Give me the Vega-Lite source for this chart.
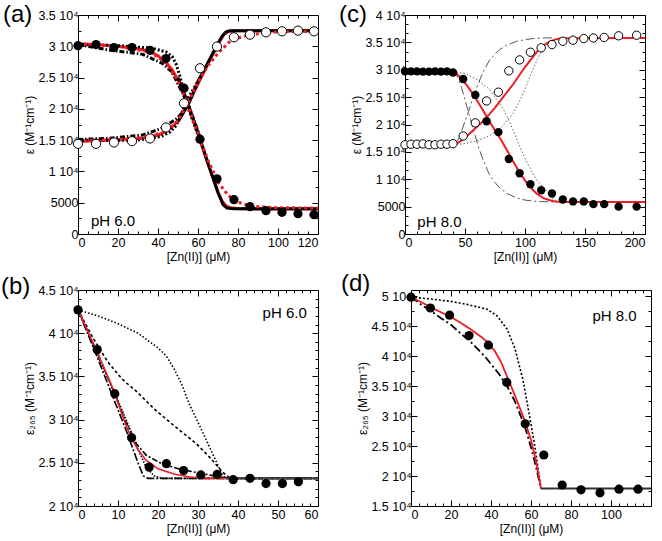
{
"$schema":"https://vega.github.io/schema/vega-lite/v6.json",
"background":"white",
"padding":{"left":0,"top":2,"right":2,"bottom":2},
"config":{"font":"Liberation Sans","view":{"stroke":"black","strokeWidth":1},
"axis":{"grid":false,"domain":false,"tickColor":"black","labelColor":"black","titleColor":"black","labelFontSize":12.5,"titleFontSize":12,"titleFontWeight":"normal","labelFont":"Liberation Sans","titleFont":"Liberation Sans"},
"title":{"font":"Liberation Sans","fontSize":24,"fontWeight":"normal","anchor":"start","frame":"group","baseline":"bottom","color":"black"}},
"datasets":{
"aP":[{"x":0,"y":30100,"s":"filled"},{"x":9,"y":30270,"s":"filled"},{"x":18,"y":29800,"s":"filled"},{"x":27,"y":29800,"s":"filled"},{"x":36,"y":29360,"s":"filled"},{"x":44,"y":28030,"s":"filled"},{"x":53,"y":23300,"s":"filled"},{"x":61,"y":15160,"s":"filled"},{"x":69.5,"y":8830,"s":"filled"},{"x":78,"y":5480,"s":"filled"},{"x":86,"y":4360,"s":"filled"},{"x":94,"y":3720,"s":"filled"},{"x":102,"y":3460,"s":"filled"},{"x":110,"y":3240,"s":"filled"},{"x":118,"y":3080,"s":"filled"},
{"x":0,"y":14410,"s":"open"},{"x":9,"y":14410,"s":"open"},{"x":18,"y":14630,"s":"open"},{"x":27,"y":14840,"s":"open"},{"x":36,"y":15270,"s":"open"},{"x":44,"y":17020,"s":"open"},{"x":53,"y":20900,"s":"open"},{"x":61,"y":26490,"s":"open"},{"x":69.5,"y":29950,"s":"open"},{"x":78,"y":31440,"s":"open"},{"x":86,"y":31860,"s":"open"},{"x":94,"y":32230,"s":"open"},{"x":102,"y":32390,"s":"open"},{"x":110,"y":32500,"s":"open"},{"x":118,"y":32390,"s":"open"}],
"aL":[{"x":0,"y":30400,"s":"rsd"},{"x":10,"y":30250,"s":"rsd"},{"x":20,"y":30000,"s":"rsd"},{"x":30,"y":29600,"s":"rsd"},{"x":36,"y":29150,"s":"rsd"},{"x":40,"y":28500,"s":"rsd"},{"x":44,"y":27400,"s":"rsd"},{"x":47,"y":26300,"s":"rsd"},{"x":50,"y":24600,"s":"rsd"},{"x":53,"y":22400,"s":"rsd"},{"x":56,"y":19700,"s":"rsd"},{"x":60,"y":16000,"s":"rsd"},{"x":65,"y":11200,"s":"rsd"},{"x":70,"y":6700,"s":"rsd"},{"x":72,"y":5300,"s":"rsd"},{"x":74,"y":4500,"s":"rsd"},{"x":76,"y":4200,"s":"rsd"},{"x":80,"y":4050,"s":"rsd"},{"x":90,"y":4000,"s":"rsd"},{"x":120,"y":4000,"s":"rsd"},
{"x":0,"y":14800,"s":"rsu"},{"x":20,"y":15050,"s":"rsu"},{"x":32,"y":15300,"s":"rsu"},{"x":40,"y":15800,"s":"rsu"},{"x":44,"y":16400,"s":"rsu"},{"x":48,"y":17400,"s":"rsu"},{"x":50.5,"y":18200,"s":"rsu"},{"x":53,"y":19600,"s":"rsu"},{"x":56,"y":21400,"s":"rsu"},{"x":60,"y":24000,"s":"rsu"},{"x":65,"y":27200,"s":"rsu"},{"x":70,"y":30300,"s":"rsu"},{"x":73,"y":31900,"s":"rsu"},{"x":75,"y":32350,"s":"rsu"},{"x":78,"y":32500,"s":"rsu"},{"x":120,"y":32500,"s":"rsu"},
{"x":50,"y":25000,"s":"bsd"},{"x":55,"y":20800,"s":"bsd"},{"x":60,"y":16200,"s":"bsd"},{"x":65,"y":11300,"s":"bsd"},{"x":70,"y":6600,"s":"bsd"},{"x":72.5,"y":4700,"s":"bsd"},{"x":74.5,"y":4150,"s":"bsd"},{"x":78,"y":4030,"s":"bsd"},{"x":120,"y":4030,"s":"bsd"},
{"x":50,"y":18000,"s":"bsu"},{"x":55,"y":20600,"s":"bsu"},{"x":60,"y":24400,"s":"bsu"},{"x":65,"y":27400,"s":"bsu"},{"x":69,"y":29900,"s":"bsu"},{"x":72,"y":31600,"s":"bsu"},{"x":74,"y":32300,"s":"bsu"},{"x":76,"y":32500,"s":"bsu"},{"x":120,"y":32500,"s":"bsu"},
{"x":0,"y":30300,"s":"bdd"},{"x":20,"y":30100,"s":"bdd"},{"x":37,"y":29700,"s":"bdd"},{"x":44,"y":29100,"s":"bdd"},{"x":47,"y":28400,"s":"bdd"},{"x":49,"y":27200,"s":"bdd"},{"x":51,"y":25200,"s":"bdd"},{"x":53,"y":22600,"s":"bdd"},{"x":55,"y":20200,"s":"bdd"},{"x":58,"y":17600,"s":"bdd"},{"x":61,"y":15000,"s":"bdd"},
{"x":0,"y":15000,"s":"bdu"},{"x":30,"y":15000,"s":"bdu"},{"x":41.6,"y":15600,"s":"bdu"},{"x":46,"y":16300,"s":"bdu"},{"x":49,"y":17300,"s":"bdu"},{"x":51,"y":18600,"s":"bdu"},{"x":53,"y":20300,"s":"bdu"},{"x":55,"y":21700,"s":"bdu"},{"x":58,"y":23300,"s":"bdu"},{"x":61,"y":25000,"s":"bdu"},
{"x":0,"y":30300,"s":"bxd"},{"x":15.5,"y":29400,"s":"bxd"},{"x":32,"y":28750,"s":"bxd"},{"x":42,"y":27300,"s":"bxd"},{"x":47,"y":25900,"s":"bxd"},{"x":51,"y":23300,"s":"bxd"},{"x":55,"y":20800,"s":"bxd"},{"x":58,"y":18200,"s":"bxd"},{"x":61,"y":15500,"s":"bxd"},
{"x":0,"y":15100,"s":"bxu"},{"x":15.5,"y":15300,"s":"bxu"},{"x":32,"y":15800,"s":"bxu"},{"x":42,"y":16900,"s":"bxu"},{"x":49.7,"y":18500,"s":"bxu"},{"x":53,"y":19800,"s":"bxu"},{"x":56,"y":21400,"s":"bxu"},{"x":58,"y":22800,"s":"bxu"},{"x":61,"y":25000,"s":"bxu"},
{"x":0,"y":30400,"s":"rdd"},{"x":20,"y":30000,"s":"rdd"},{"x":36,"y":29100,"s":"rdd"},{"x":44,"y":27400,"s":"rdd"},{"x":50,"y":24500,"s":"rdd"},{"x":55,"y":20600,"s":"rdd"},{"x":60,"y":15900,"s":"rdd"},{"x":65,"y":11800,"s":"rdd"},{"x":70,"y":8300,"s":"rdd"},{"x":75,"y":6200,"s":"rdd"},{"x":80,"y":5100,"s":"rdd"},{"x":85,"y":4600,"s":"rdd"},{"x":90,"y":4350,"s":"rdd"},{"x":100,"y":4200,"s":"rdd"},{"x":120,"y":4150,"s":"rdd"},
{"x":0,"y":14800,"s":"rdu"},{"x":30,"y":15300,"s":"rdu"},{"x":44,"y":16300,"s":"rdu"},{"x":50,"y":18100,"s":"rdu"},{"x":55,"y":21000,"s":"rdu"},{"x":60,"y":24300,"s":"rdu"},{"x":65,"y":26900,"s":"rdu"},{"x":70,"y":28900,"s":"rdu"},{"x":76.7,"y":31000,"s":"rdu"},{"x":85,"y":31800,"s":"rdu"},{"x":95,"y":32200,"s":"rdu"},{"x":105,"y":32350,"s":"rdu"},{"x":120,"y":32400,"s":"rdu"}],
"aT":[{"x":6.5,"y":1300,"t":"pH 6.0"}],
"cP":[{"x":0,"y":29700,"s":"filled"},{"x":5,"y":29700,"s":"filled"},{"x":10,"y":29700,"s":"filled"},{"x":15,"y":29650,"s":"filled"},{"x":20,"y":29650,"s":"filled"},{"x":25,"y":29700,"s":"filled"},{"x":30,"y":29650,"s":"filled"},{"x":35,"y":29700,"s":"filled"},{"x":40,"y":29500,"s":"filled"},{"x":48.5,"y":28300,"s":"filled"},{"x":58.6,"y":25400,"s":"filled"},{"x":68,"y":20600,"s":"filled"},{"x":77.8,"y":18600,"s":"filled"},{"x":86.5,"y":13700,"s":"filled"},{"x":95.5,"y":11100,"s":"filled"},{"x":104.5,"y":9100,"s":"filled"},{"x":113.5,"y":8000,"s":"filled"},{"x":122.5,"y":7400,"s":"filled"},{"x":131.5,"y":6300,"s":"filled"},{"x":140,"y":5950,"s":"filled"},{"x":149,"y":5950,"s":"filled"},{"x":157,"y":5450,"s":"filled"},{"x":166,"y":5450,"s":"filled"},{"x":178,"y":5000,"s":"filled"},{"x":193,"y":5000,"s":"filled"},
{"x":0,"y":16300,"s":"open"},{"x":5,"y":16400,"s":"open"},{"x":10,"y":16400,"s":"open"},{"x":15,"y":16450,"s":"open"},{"x":20,"y":16300,"s":"open"},{"x":25,"y":16300,"s":"open"},{"x":30,"y":16400,"s":"open"},{"x":35,"y":16400,"s":"open"},{"x":40,"y":16500,"s":"open"},{"x":48.5,"y":17900,"s":"open"},{"x":58.6,"y":20300,"s":"open"},{"x":68,"y":24300,"s":"open"},{"x":77.8,"y":25900,"s":"open"},{"x":86.5,"y":29800,"s":"open"},{"x":95.5,"y":31800,"s":"open"},{"x":104.5,"y":33200,"s":"open"},{"x":113.5,"y":34000,"s":"open"},{"x":122.5,"y":34600,"s":"open"},{"x":131.5,"y":35200,"s":"open"},{"x":140,"y":35400,"s":"open"},{"x":149,"y":35700,"s":"open"},{"x":157,"y":35800,"s":"open"},{"x":166,"y":35900,"s":"open"},{"x":178,"y":36200,"s":"open"},{"x":193,"y":36300,"s":"open"}],
"cL":[{"x":40,"y":29700,"s":"ld"},{"x":41,"y":29650,"s":"ld"},{"x":44,"y":28600,"s":"ld"},{"x":47,"y":26800,"s":"ld"},{"x":50,"y":24500,"s":"ld"},{"x":53,"y":22200,"s":"ld"},{"x":56,"y":19800,"s":"ld"},{"x":60,"y":16800,"s":"ld"},{"x":62.4,"y":15100,"s":"ld"},{"x":65,"y":13600,"s":"ld"},{"x":70,"y":11000,"s":"ld"},{"x":75,"y":9400,"s":"ld"},{"x":79,"y":8400,"s":"ld"},{"x":85,"y":7400,"s":"ld"},{"x":93,"y":6600,"s":"ld"},{"x":100,"y":6200,"s":"ld"},{"x":107,"y":6000,"s":"ld"},{"x":115,"y":5900,"s":"ld"},{"x":125,"y":5850,"s":"ld"},
{"x":40,"y":16300,"s":"la"},{"x":41,"y":16350,"s":"la"},{"x":44,"y":17200,"s":"la"},{"x":47,"y":18700,"s":"la"},{"x":50,"y":20600,"s":"la"},{"x":53,"y":22400,"s":"la"},{"x":56,"y":24400,"s":"la"},{"x":60,"y":26800,"s":"la"},{"x":62.4,"y":28200,"s":"la"},{"x":65,"y":29500,"s":"la"},{"x":70,"y":31600,"s":"la"},{"x":75,"y":32900,"s":"la"},{"x":79,"y":33700,"s":"la"},{"x":85,"y":34500,"s":"la"},{"x":93,"y":35200,"s":"la"},{"x":100,"y":35500,"s":"la"},{"x":107,"y":35700,"s":"la"},{"x":115,"y":35800,"s":"la"},{"x":125,"y":35850,"s":"la"},
{"x":40,"y":29700,"s":"gd"},{"x":42,"y":29600,"s":"gd"},{"x":50,"y":29300,"s":"gd"},{"x":60,"y":28200,"s":"gd"},{"x":70,"y":26500,"s":"gd"},{"x":78,"y":24000,"s":"gd"},{"x":82,"y":22800,"s":"gd"},{"x":86,"y":21000,"s":"gd"},{"x":90,"y":19000,"s":"gd"},{"x":95,"y":16300,"s":"gd"},{"x":100,"y":13800,"s":"gd"},{"x":105,"y":11600,"s":"gd"},{"x":110,"y":9800,"s":"gd"},{"x":115,"y":8600,"s":"gd"},{"x":118,"y":7800,"s":"gd"},{"x":121,"y":7000,"s":"gd"},{"x":124,"y":6300,"s":"gd"},{"x":128,"y":5950,"s":"gd"},{"x":135,"y":5850,"s":"gd"},
{"x":40,"y":16300,"s":"ga"},{"x":42,"y":16350,"s":"ga"},{"x":50,"y":16500,"s":"ga"},{"x":60,"y":17000,"s":"ga"},{"x":70,"y":17900,"s":"ga"},{"x":80,"y":19400,"s":"ga"},{"x":90,"y":22000,"s":"ga"},{"x":95,"y":24000,"s":"ga"},{"x":100,"y":26500,"s":"ga"},{"x":105,"y":29200,"s":"ga"},{"x":110,"y":31800,"s":"ga"},{"x":115,"y":33800,"s":"ga"},{"x":120,"y":35000,"s":"ga"},{"x":125,"y":35600,"s":"ga"},{"x":130,"y":35800,"s":"ga"},
{"x":0,"y":29700,"s":"rd"},{"x":41,"y":29700,"s":"rd"},{"x":43,"y":29300,"s":"rd"},{"x":46,"y":28600,"s":"rd"},{"x":50,"y":27600,"s":"rd"},{"x":55,"y":26100,"s":"rd"},{"x":60,"y":24400,"s":"rd"},{"x":65,"y":22600,"s":"rd"},{"x":70,"y":20700,"s":"rd"},{"x":75,"y":18900,"s":"rd"},{"x":80,"y":17200,"s":"rd"},{"x":85,"y":15300,"s":"rd"},{"x":90,"y":13300,"s":"rd"},{"x":95,"y":11400,"s":"rd"},{"x":100,"y":9800,"s":"rd"},{"x":105,"y":8400,"s":"rd"},{"x":110,"y":7300,"s":"rd"},{"x":115,"y":6600,"s":"rd"},{"x":120,"y":6200,"s":"rd"},{"x":125,"y":5950,"s":"rd"},{"x":130,"y":5850,"s":"rd"},{"x":200,"y":5850,"s":"rd"},
{"x":0,"y":16300,"s":"ra"},{"x":41,"y":16300,"s":"ra"},{"x":43,"y":16500,"s":"ra"},{"x":46,"y":16900,"s":"ra"},{"x":50,"y":17600,"s":"ra"},{"x":55,"y":18600,"s":"ra"},{"x":60,"y":19600,"s":"ra"},{"x":65,"y":20600,"s":"ra"},{"x":70,"y":21800,"s":"ra"},{"x":75,"y":23100,"s":"ra"},{"x":80,"y":24500,"s":"ra"},{"x":85,"y":25900,"s":"ra"},{"x":90,"y":27300,"s":"ra"},{"x":95,"y":28900,"s":"ra"},{"x":100,"y":30500,"s":"ra"},{"x":105,"y":31900,"s":"ra"},{"x":110,"y":33300,"s":"ra"},{"x":115,"y":34400,"s":"ra"},{"x":120,"y":35100,"s":"ra"},{"x":125,"y":35500,"s":"ra"},{"x":130,"y":35750,"s":"ra"},{"x":200,"y":35800,"s":"ra"}],
"cT":[{"x":10.3,"y":1340,"t":"pH 8.0"}],
"bP":[{"x":0,"y":42700},{"x":4.8,"y":38100},{"x":9.2,"y":33000},{"x":13.4,"y":27900},{"x":17.8,"y":24500},{"x":22.1,"y":24900},{"x":26.4,"y":24100},{"x":30.7,"y":23600},{"x":34.8,"y":23650},{"x":38.8,"y":23050},{"x":43,"y":23200},{"x":47,"y":22600},{"x":51.1,"y":22600},{"x":55.1,"y":22800}],
"bL":[{"x":0,"y":42700,"s":"bdot"},{"x":5,"y":42000,"s":"bdot"},{"x":10,"y":41100,"s":"bdot"},{"x":15,"y":40000,"s":"bdot"},{"x":20,"y":38300,"s":"bdot"},{"x":22,"y":37400,"s":"bdot"},{"x":24,"y":35900,"s":"bdot"},{"x":26,"y":34000,"s":"bdot"},{"x":28,"y":31600,"s":"bdot"},{"x":30,"y":29700,"s":"bdot"},{"x":32,"y":27700,"s":"bdot"},{"x":34,"y":25700,"s":"bdot"},{"x":36,"y":23700,"s":"bdot"},{"x":37,"y":23200,"s":"bdot"},{"x":60,"y":23200,"s":"bdot"},
{"x":0,"y":42700,"s":"bsh"},{"x":3.7,"y":39500,"s":"bsh"},{"x":7.4,"y":36700,"s":"bsh"},{"x":11,"y":34700,"s":"bsh"},{"x":15,"y":33100,"s":"bsh"},{"x":19.1,"y":31200,"s":"bsh"},{"x":24,"y":29300,"s":"bsh"},{"x":29.6,"y":27200,"s":"bsh"},{"x":33,"y":25600,"s":"bsh"},{"x":36,"y":24000,"s":"bsh"},{"x":38,"y":23200,"s":"bsh"},{"x":60,"y":23200,"s":"bsh"},
{"x":0,"y":42700,"s":"bdx"},{"x":5,"y":37600,"s":"bdx"},{"x":9.6,"y":32500,"s":"bdx"},{"x":12,"y":29700,"s":"bdx"},{"x":14.6,"y":27200,"s":"bdx"},{"x":17,"y":25900,"s":"bdx"},{"x":21.3,"y":24800,"s":"bdx"},{"x":26,"y":24200,"s":"bdx"},{"x":30.5,"y":23800,"s":"bdx"},{"x":35,"y":23400,"s":"bdx"},{"x":38,"y":23200,"s":"bdx"},{"x":60,"y":23200,"s":"bdx"},
{"x":0,"y":42700,"s":"bld"},{"x":5,"y":37000,"s":"bld"},{"x":9,"y":32300,"s":"bld"},{"x":12,"y":28800,"s":"bld"},{"x":15,"y":25000,"s":"bld"},{"x":16.3,"y":23500,"s":"bld"},{"x":17.5,"y":23200,"s":"bld"},{"x":60,"y":23200,"s":"bld"},
{"x":0,"y":42700,"s":"bdt2"},{"x":5,"y":37300,"s":"bdt2"},{"x":10,"y":32200,"s":"bdt2"},{"x":13,"y":28900,"s":"bdt2"},{"x":15,"y":26600,"s":"bdt2"},{"x":17,"y":24500,"s":"bdt2"},{"x":19,"y":23500,"s":"bdt2"},{"x":21,"y":23200,"s":"bdt2"},{"x":60,"y":23200,"s":"bdt2"},
{"x":0,"y":42700,"s":"red"},{"x":5,"y":37600,"s":"red"},{"x":9,"y":33300,"s":"red"},{"x":11,"y":30600,"s":"red"},{"x":13,"y":28200,"s":"red"},{"x":15,"y":26500,"s":"red"},{"x":17,"y":25300,"s":"red"},{"x":20,"y":24300,"s":"red"},{"x":24,"y":23700,"s":"red"},{"x":28,"y":23350,"s":"red"},{"x":32,"y":23200,"s":"red"},{"x":37,"y":23200,"s":"red"},
{"x":37,"y":23200,"s":"flat"},{"x":60,"y":23200,"s":"flat"}],
"bT":[{"x":57.2,"y":41800,"t":"pH 6.0"}],
"dP":[{"x":0,"y":49800},{"x":9.7,"y":48000},{"x":19.3,"y":46800},{"x":29,"y":43400},{"x":38.7,"y":41800},{"x":47.9,"y":35600},{"x":57.1,"y":28700},{"x":66.4,"y":23500},{"x":75.6,"y":18500},{"x":85,"y":17700},{"x":94.5,"y":17200},{"x":104,"y":17800},{"x":113.5,"y":17800}],
"dL":[{"x":0,"y":49800,"s":"ddot"},{"x":10,"y":49500,"s":"ddot"},{"x":20,"y":49100,"s":"ddot"},{"x":28,"y":48600,"s":"ddot"},{"x":38,"y":47800,"s":"ddot"},{"x":43,"y":46700,"s":"ddot"},{"x":48,"y":44500,"s":"ddot"},{"x":52,"y":41200,"s":"ddot"},{"x":56,"y":36000,"s":"ddot"},{"x":59,"y":30500,"s":"ddot"},{"x":62,"y":24800,"s":"ddot"},{"x":65,"y":17900,"s":"ddot"},
{"x":0,"y":49800,"s":"dld"},{"x":5,"y":48600,"s":"dld"},{"x":10,"y":47500,"s":"dld"},{"x":15,"y":46300,"s":"dld"},{"x":20,"y":45200,"s":"dld"},{"x":24,"y":44000,"s":"dld"},{"x":30,"y":42300,"s":"dld"},{"x":37.5,"y":39700,"s":"dld"},{"x":44,"y":37000,"s":"dld"},{"x":48,"y":35000,"s":"dld"},{"x":52,"y":32400,"s":"dld"},{"x":57,"y":28200,"s":"dld"},{"x":61,"y":23600,"s":"dld"},{"x":65,"y":17900,"s":"dld"},
{"x":0,"y":49800,"s":"red"},{"x":5,"y":49000,"s":"red"},{"x":10,"y":48100,"s":"red"},{"x":15,"y":47300,"s":"red"},{"x":20,"y":46500,"s":"red"},{"x":25,"y":45500,"s":"red"},{"x":30,"y":44400,"s":"red"},{"x":35,"y":43200,"s":"red"},{"x":38,"y":42400,"s":"red"},{"x":42,"y":40800,"s":"red"},{"x":45,"y":39000,"s":"red"},{"x":48,"y":36600,"s":"red"},{"x":51,"y":34200,"s":"red"},{"x":54,"y":31700,"s":"red"},{"x":57,"y":29100,"s":"red"},{"x":60,"y":26000,"s":"red"},{"x":62.5,"y":22500,"s":"red"},{"x":65,"y":17900,"s":"red"},
{"x":65,"y":17900,"s":"dflat"},{"x":120,"y":17900,"s":"dflat"}],
"dT":[{"x":112.8,"y":45800,"t":"pH 8.0"}]
},
"spacing":8,
"resolve":{"scale":{"color":"independent","strokeDash":"independent","strokeWidth":"independent"}},
"vconcat":[
{"hconcat":[
{"width":240,"height":219,
"title":{"text":"(a)","dx":-75,"offset":-18},
"layer":[
{"data":{"name":"aL"},"mark":{"type":"line","clip":true},
"encoding":{
"x":{"field":"x","type":"quantitative","scale":{"domain":[0,120],"nice":false,"zero":false},"axis":{"orient":"bottom","values":[0,20,40,60,80,100,120],"tickSize":-6,"labelPadding":8,"title":"[Zn(II)] (μM)","titlePadding":3}},
"y":{"field":"y","type":"quantitative","scale":{"domain":[0,35000],"nice":false,"zero":false},"axis":{"orient":"left","values":[0,5000,10000,15000,20000,25000,30000,35000],"tickSize":-6,"labelPadding":6,"labelExpr":"datum.value == 0 ? '0' : datum.value == 5000 ? '5000' : (datum.value / 10000) + ' 10⁴'","title":"ε (M⁻¹cm⁻¹)","titlePadding":1}},
"color":{"field":"s","type":"nominal","legend":null,"scale":{"domain":["rsd","rsu","bsd","bsu","bdd","bdu","bxd","bxu","rdd","rdu"],"range":["#ee1c24","#ee1c24","#000000","#000000","#000000","#000000","#000000","#000000","#ee1c24","#ee1c24"]}},
"strokeDash":{"field":"s","type":"nominal","legend":null,"scale":{"domain":["rsd","rsu","bsd","bsu","bdd","bdu","bxd","bxu","rdd","rdu"],"range":[[1,0],[1,0],[1,0],[1,0],[2,2],[2,2],[5,2,1.5,2],[5,2,1.5,2],[3,3],[3,3]]}},
"strokeWidth":{"field":"s","type":"ordinal","legend":null,"scale":{"domain":["rsd","rsu","bsd","bsu","bdd","bdu","bxd","bxu","rdd","rdu"],"range":[3,3,2,2,1.4,1.4,1.5,1.5,3.5,3.5]}}}},
{"data":{"name":"aP"},"transform":[{"filter":"datum.s == 'filled'"}],"mark":{"type":"point","shape":"circle","filled":true,"color":"black","size":85,"opacity":1},
"encoding":{"x":{"field":"x","type":"quantitative","axis":{"orient":"top","values":[0,20,40,60,80,100,120],"tickSize":-6,"labels":false,"title":null}},
"y":{"field":"y","type":"quantitative","axis":{"orient":"right","values":[0,5000,10000,15000,20000,25000,30000,35000],"tickSize":-6,"labels":false,"title":null}}}},
{"data":{"name":"aP"},"transform":[{"filter":"datum.s == 'open'"}],"mark":{"type":"point","shape":"circle","filled":true,"fill":"white","stroke":"black","strokeWidth":1,"size":85,"opacity":1},
"encoding":{"x":{"field":"x","type":"quantitative","axis":{"orient":"bottom","values":[5,10,15,25,30,35,45,50,55,65,70,75,85,90,95,105,110,115],"tickSize":-3,"labels":false,"title":null}},
"y":{"field":"y","type":"quantitative","axis":{"orient":"left","values":[2500,7500,12500,17500,22500,27500,32500],"tickSize":-3,"labels":false,"title":null}}}},
{"data":{"name":"aT"},"mark":{"type":"text","align":"left","baseline":"alphabetic","fontSize":15,"font":"Liberation Sans"},
"encoding":{"text":{"field":"t"},"x":{"field":"x","type":"quantitative","axis":{"orient":"top","values":[5,10,15,25,30,35,45,50,55,65,70,75,85,90,95,105,110,115],"tickSize":-3,"labels":false,"title":null}},
"y":{"field":"y","type":"quantitative","axis":{"orient":"right","values":[2500,7500,12500,17500,22500,27500,32500],"tickSize":-3,"labels":false,"title":null}}}}
],
"resolve":{"axis":{"x":"independent","y":"independent"}}},
{"width":240,"height":219,
"title":{"text":"(c)","dx":-66,"offset":-18},
"layer":[
{"data":{"name":"cL"},"transform":[{"filter":"datum.s != 'rd' && datum.s != 'ra'"}],"mark":{"type":"line","clip":true},
"encoding":{
"x":{"field":"x","type":"quantitative","scale":{"domain":[0,200],"nice":false,"zero":false},"axis":{"orient":"bottom","values":[0,50,100,150,200],"tickSize":-6,"labelPadding":8,"title":"[Zn(II)] (μM)","titlePadding":3}},
"y":{"field":"y","type":"quantitative","scale":{"domain":[0,40000],"nice":false,"zero":false},"axis":{"orient":"left","values":[0,5000,10000,15000,20000,25000,30000,35000,40000],"tickSize":-6,"labelPadding":6,"labelExpr":"datum.value == 0 ? '0' : datum.value == 5000 ? '5000' : (datum.value / 10000) + ' 10⁴'","title":"ε (M⁻¹cm⁻¹)","titlePadding":1}},
"color":{"field":"s","type":"nominal","legend":null,"scale":{"domain":["ld","la","gd","ga"],"range":["#555555","#555555","#666666","#666666"]}},
"strokeDash":{"field":"s","type":"nominal","legend":null,"scale":{"domain":["ld","la","gd","ga"],"range":[[9,3,2,3],[9,3,2,3],[1.5,2],[1.5,2]]}},
"strokeWidth":{"value":1}}},
{"data":{"name":"cL"},"transform":[{"filter":"datum.s == 'rd' || datum.s == 'ra'"}],"mark":{"type":"line","clip":true,"color":"#ee1c24","strokeWidth":2},
"encoding":{"detail":{"field":"s"},"x":{"field":"x","type":"quantitative","axis":{"orient":"top","values":[0,50,100,150,200],"tickSize":-6,"labels":false,"title":null}},
"y":{"field":"y","type":"quantitative","axis":{"orient":"right","values":[0,5000,10000,15000,20000,25000,30000,35000,40000],"tickSize":-6,"labels":false,"title":null}}}},
{"data":{"name":"cP"},"transform":[{"filter":"datum.s == 'filled'"}],"mark":{"type":"point","shape":"circle","filled":true,"color":"black","size":70,"opacity":1},
"encoding":{"x":{"field":"x","type":"quantitative","axis":{"orient":"bottom","values":[10,20,30,40,60,70,80,90,110,120,130,140,160,170,180,190],"tickSize":-3,"labels":false,"title":null}},
"y":{"field":"y","type":"quantitative","axis":{"orient":"left","values":[1666.7,3333.3,6666.7,8333.3,11666.7,13333.3,16666.7,18333.3,21666.7,23333.3,26666.7,28333.3,31666.7,33333.3,36666.7,38333.3],"tickSize":-3,"labels":false,"title":null}}}},
{"data":{"name":"cP"},"transform":[{"filter":"datum.s == 'open'"}],"mark":{"type":"point","shape":"circle","filled":true,"fill":"white","stroke":"black","strokeWidth":1,"size":70,"opacity":1},
"encoding":{"x":{"field":"x","type":"quantitative","axis":{"orient":"top","values":[10,20,30,40,60,70,80,90,110,120,130,140,160,170,180,190],"tickSize":-3,"labels":false,"title":null}},
"y":{"field":"y","type":"quantitative","axis":{"orient":"right","values":[1666.7,3333.3,6666.7,8333.3,11666.7,13333.3,16666.7,18333.3,21666.7,23333.3,26666.7,28333.3,31666.7,33333.3,36666.7,38333.3],"tickSize":-3,"labels":false,"title":null}}}},
{"data":{"name":"cT"},"mark":{"type":"text","align":"left","baseline":"alphabetic","fontSize":15,"font":"Liberation Sans"},
"encoding":{"text":{"field":"t"},"x":{"field":"x","type":"quantitative","axis":null},"y":{"field":"y","type":"quantitative","axis":null}}}
],
"resolve":{"axis":{"x":"independent","y":"independent"}}}
],"spacing":16,"resolve":{"scale":{"color":"independent","strokeDash":"independent","strokeWidth":"independent"}}},
{"hconcat":[
{"width":240,"height":216,
"title":{"text":"(b)","dx":-77,"offset":-15},
"layer":[
{"data":{"name":"bL"},"transform":[{"filter":"datum.s != 'red'"}],"mark":{"type":"line","clip":true},
"encoding":{
"x":{"field":"x","type":"quantitative","scale":{"domain":[0,60],"nice":false,"zero":false},"axis":{"orient":"bottom","values":[0,10,20,30,40,50,60],"tickSize":-6,"labelPadding":8,"title":"[Zn(II)] (μM)","titlePadding":3}},
"y":{"field":"y","type":"quantitative","scale":{"domain":[20000,45000],"nice":false,"zero":false},"axis":{"orient":"left","values":[20000,25000,30000,35000,40000,45000],"tickSize":-6,"labelPadding":6,"labelExpr":"(datum.value / 10000) + ' 10⁴'","title":"ε₂₆₅ (M⁻¹cm⁻¹)","titlePadding":1}},
"color":{"field":"s","type":"nominal","legend":null,"scale":{"domain":["bdot","bsh","bdx","bld","bdt2","flat"],"range":["#000000","#000000","#000000","#000000","#000000","#444444"]}},
"strokeDash":{"field":"s","type":"nominal","legend":null,"scale":{"domain":["bdot","bsh","bdx","bld","bdt2","flat"],"range":[[1.5,2],[3,2.5],[6,2,2,2],[8,2,2,2],[1.5,1.5],[1,0]]}},
"strokeWidth":{"field":"s","type":"ordinal","legend":null,"scale":{"domain":["bdot","bsh","bdx","bld","bdt2","flat"],"range":[1.6,1.6,1.5,2,1.3,2]}}}},
{"data":{"name":"bL"},"transform":[{"filter":"datum.s == 'red'"}],"mark":{"type":"line","clip":true,"color":"#ee1c24","strokeWidth":1.6},
"encoding":{"x":{"field":"x","type":"quantitative","axis":{"orient":"top","values":[0,10,20,30,40,50,60],"tickSize":-6,"labels":false,"title":null}},
"y":{"field":"y","type":"quantitative","axis":{"orient":"right","values":[20000,25000,30000,35000,40000,45000],"tickSize":-6,"labels":false,"title":null}}}},
{"data":{"name":"bP"},"mark":{"type":"point","shape":"circle","filled":true,"color":"black","size":85,"opacity":1},
"encoding":{"x":{"field":"x","type":"quantitative","axis":{"orient":"bottom","values":[2,4,6,8,12,14,16,18,22,24,26,28,32,34,36,38,42,44,46,48,52,54,56,58],"tickSize":-3,"labels":false,"title":null}},
"y":{"field":"y","type":"quantitative","axis":{"orient":"left","values":[21000,22000,23000,24000,26000,27000,28000,29000,31000,32000,33000,34000,36000,37000,38000,39000,41000,42000,43000,44000],"tickSize":-3,"labels":false,"title":null}}}},
{"data":{"name":"bT"},"mark":{"type":"text","align":"right","baseline":"alphabetic","fontSize":15,"font":"Liberation Sans"},
"encoding":{"text":{"field":"t"},"x":{"field":"x","type":"quantitative","axis":{"orient":"top","values":[2,4,6,8,12,14,16,18,22,24,26,28,32,34,36,38,42,44,46,48,52,54,56,58],"tickSize":-3,"labels":false,"title":null}},
"y":{"field":"y","type":"quantitative","axis":{"orient":"right","values":[21000,22000,23000,24000,26000,27000,28000,29000,31000,32000,33000,34000,36000,37000,38000,39000,41000,42000,43000,44000],"tickSize":-3,"labels":false,"title":null}}}}
],
"resolve":{"axis":{"x":"independent","y":"independent"}}},
{"width":240,"height":216,
"title":{"text":"(d)","dx":-70,"offset":-6},
"layer":[
{"data":{"name":"dL"},"transform":[{"filter":"datum.s != 'red'"}],"mark":{"type":"line","clip":true},
"encoding":{
"x":{"field":"x","type":"quantitative","scale":{"domain":[0,120],"nice":false,"zero":false},"axis":{"orient":"bottom","values":[0,20,40,60,80,100],"tickSize":-6,"labelPadding":8,"title":"[Zn(II)] (μM)","titlePadding":3}},
"y":{"field":"y","type":"quantitative","scale":{"domain":[15000,51000],"nice":false,"zero":false},"axis":{"orient":"left","values":[15000,20000,25000,30000,35000,40000,45000,50000],"tickSize":-6,"labelPadding":6,"labelExpr":"(datum.value / 10000) + ' 10⁴'","title":"ε₂₆₅ (M⁻¹cm⁻¹)","titlePadding":1}},
"color":{"field":"s","type":"nominal","legend":null,"scale":{"domain":["ddot","dld","dflat"],"range":["#000000","#000000","#333333"]}},
"strokeDash":{"field":"s","type":"nominal","legend":null,"scale":{"domain":["ddot","dld","dflat"],"range":[[2,2],[8,3,2,3],[1,0]]}},
"strokeWidth":{"field":"s","type":"ordinal","legend":null,"scale":{"domain":["ddot","dld","dflat"],"range":[1.6,2,2]}}}},
{"data":{"name":"dL"},"transform":[{"filter":"datum.s == 'red'"}],"mark":{"type":"line","clip":true,"color":"#ee1c24","strokeWidth":1.8},
"encoding":{"x":{"field":"x","type":"quantitative","axis":{"orient":"top","values":[0,20,40,60,80,100,120],"tickSize":-6,"labels":false,"title":null}},
"y":{"field":"y","type":"quantitative","axis":{"orient":"right","values":[15000,20000,25000,30000,35000,40000,45000,50000],"tickSize":-6,"labels":false,"title":null}}}},
{"data":{"name":"dP"},"mark":{"type":"point","shape":"circle","filled":true,"color":"black","size":85,"opacity":1},
"encoding":{"x":{"field":"x","type":"quantitative","axis":{"orient":"bottom","values":[4,8,12,16,24,28,32,36,44,48,52,56,64,68,72,76,84,88,92,96,104,108,112,116],"tickSize":-3,"labels":false,"title":null}},
"y":{"field":"y","type":"quantitative","axis":{"orient":"left","values":[17500,22500,27500,32500,37500,42500,47500],"tickSize":-3,"labels":false,"title":null}}}},
{"data":{"name":"dT"},"mark":{"type":"text","align":"right","baseline":"alphabetic","fontSize":15,"font":"Liberation Sans"},
"encoding":{"text":{"field":"t"},"x":{"field":"x","type":"quantitative","axis":{"orient":"top","values":[4,8,12,16,24,28,32,36,44,48,52,56,64,68,72,76,84,88,92,96,104,108,112,116],"tickSize":-3,"labels":false,"title":null}},
"y":{"field":"y","type":"quantitative","axis":{"orient":"right","values":[17500,22500,27500,32500,37500,42500,47500],"tickSize":-3,"labels":false,"title":null}}}}
],
"resolve":{"axis":{"x":"independent","y":"independent"}}}
],"spacing":21,"resolve":{"scale":{"color":"independent","strokeDash":"independent","strokeWidth":"independent"}}}
]
}
